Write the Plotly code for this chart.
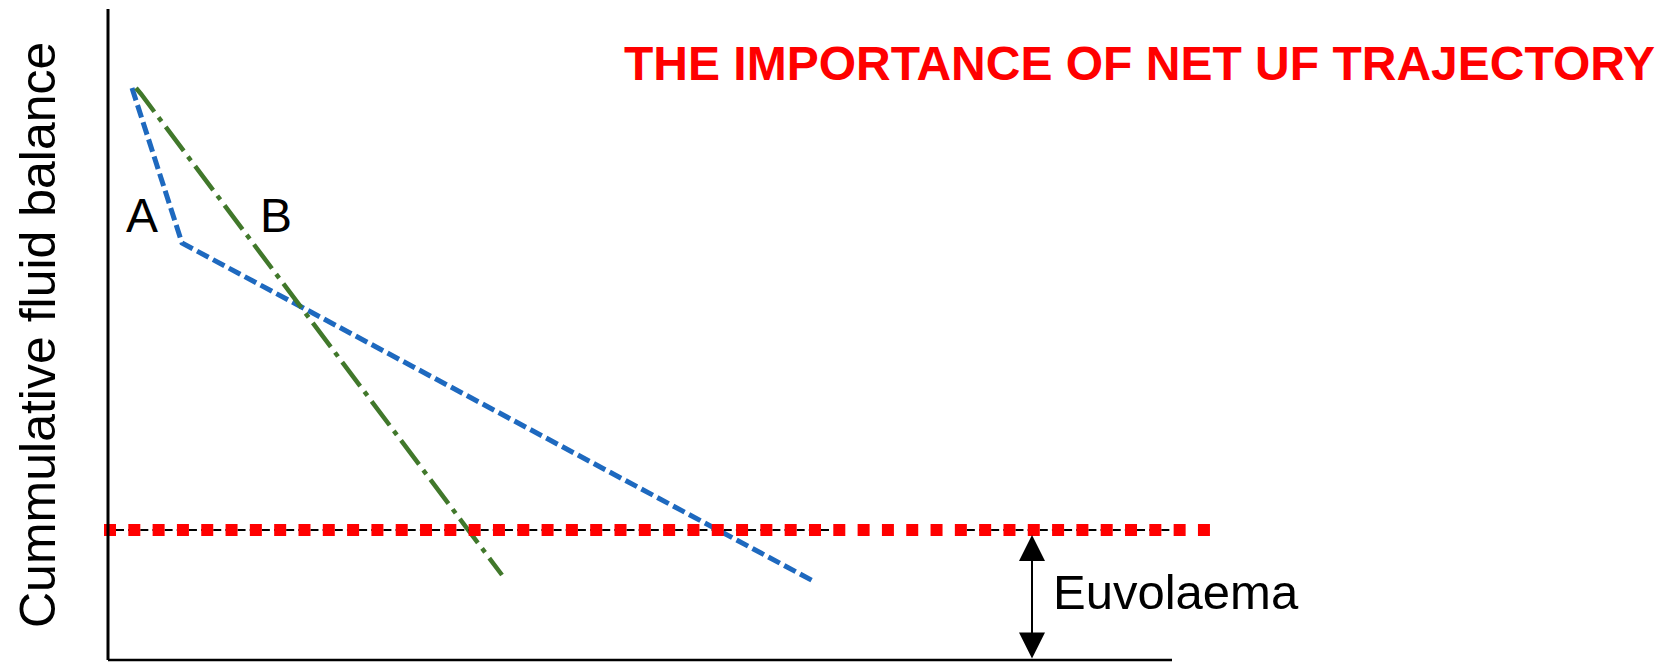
import plotly.graph_objects as go

# Fluid balance trajectories (time on x, cumulative balance on y, arbitrary units)
traj_a_x = [0.24, 0.74, 7.07]
traj_a_y = [5.72, 4.17, 0.78]
traj_b_x = [0.28, 0.33, 3.94]
traj_b_y = [5.72, 5.66, 0.85]

# Euvolaemic target level and its extent
euvolaemia_level = 1.30
target_x = [-0.04, 11.02]
guide_x = [0.08, 7.24, None, 8.5885, 10.62]

# Axis extents
x_axis_end = 10.64
y_axis_top = 6.51
arrow_x = 9.24

FONT = "Liberation Sans, Arial, Helvetica, sans-serif"

fig = go.Figure()

fig.add_trace(go.Scatter(
    x=traj_a_x, y=traj_a_y, mode="lines",
    line=dict(color="#1E69BF", width=5, dash="13px,5px"),
    hoverinfo="skip", showlegend=False,
))
fig.add_trace(go.Scatter(
    x=traj_b_x, y=traj_b_y, mode="lines",
    line=dict(color="#41782B", width=4.5, dash="30px,7px,5px,7px"),
    hoverinfo="skip", showlegend=False,
))
fig.add_trace(go.Scatter(
    x=guide_x, y=[euvolaemia_level if v is not None else None for v in guide_x],
    mode="lines", connectgaps=False,
    line=dict(color="black", width=2, dash="8px,4.155px"),
    hoverinfo="skip", showlegend=False,
))
fig.add_trace(go.Scatter(
    x=target_x, y=[euvolaemia_level] * len(target_x), mode="lines",
    line=dict(color="#FF0000", width=12, dash="12px,12.31px"),
    hoverinfo="skip", showlegend=False,
))

# Axis lines
fig.add_shape(type="line", x0=0, y0=0, x1=0, y1=y_axis_top,
              line=dict(color="black", width=3))
fig.add_shape(type="line", x0=0, y0=0, x1=x_axis_end, y1=0,
              line=dict(color="black", width=2.5))

# Double-headed arrow marking the distance to euvolaemia
fig.add_annotation(
    x=arrow_x, y=euvolaemia_level - 0.05, ax=arrow_x, ay=0,
    xref="x", yref="y", axref="x", ayref="y",
    text="", showarrow=True, arrowside="end+start",
    arrowhead=2, arrowsize=2.6, arrowwidth=2, arrowcolor="black", standoff=0,
    startarrowhead=2, startarrowsize=2.6, startstandoff=0,
)

fig.add_annotation(x=9.43, y=0.68, xref="x", yref="y", text="Euvolaema",
                   showarrow=False, xanchor="left", yanchor="middle",
                   font=dict(family=FONT, size=49, color="black"))
fig.add_annotation(x=0.335, y=4.45, xref="x", yref="y", text="A",
                   showarrow=False, xanchor="center", yanchor="middle",
                   font=dict(family=FONT, size=48, color="black"))
fig.add_annotation(x=1.68, y=4.45, xref="x", yref="y", text="B",
                   showarrow=False, xanchor="center", yanchor="middle",
                   font=dict(family=FONT, size=48, color="black"))
fig.add_annotation(x=10.315, y=5.97, xref="x", yref="y",
                   text="<b>THE IMPORTANCE OF NET UF TRAJECTORY</b>",
                   showarrow=False, xanchor="center", yanchor="middle",
                   font=dict(family=FONT, size=48, color="#FF0000"))
fig.add_annotation(x=-0.70, y=3.25, xref="x", yref="y",
                   text="Cummulative fluid balance", textangle=-90,
                   showarrow=False, xanchor="center", yanchor="middle",
                   font=dict(family=FONT, size=50, color="black"))

fig.update_layout(
    width=1670, height=662,
    margin=dict(l=0, r=0, t=0, b=0),
    paper_bgcolor="white", plot_bgcolor="white",
    xaxis=dict(range=[-1.08, 15.62], visible=False, fixedrange=True),
    yaxis=dict(range=[-0.02, 6.60], visible=False, fixedrange=True),
    showlegend=False,
)

fig.write_html("out.html")
